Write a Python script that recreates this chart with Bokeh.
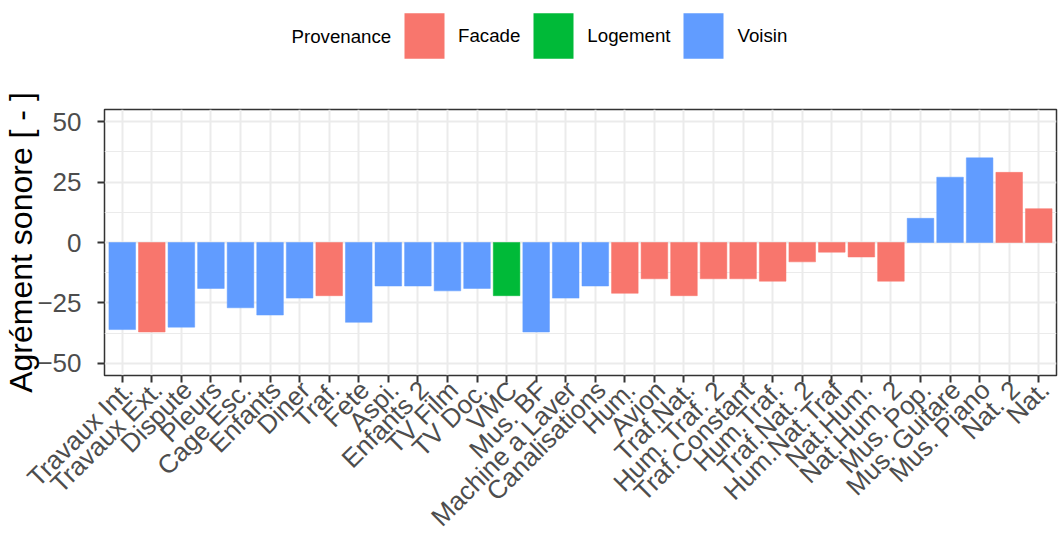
import math
from bokeh.plotting import figure
from bokeh.layouts import column
from bokeh.models import (ColumnDataSource, Range1d, FixedTicker,
                          Legend, LegendItem, Label, LinearAxis)
from bokeh.embed import file_html
from bokeh.resources import INLINE

categories = ["Travaux Int.", "Travaux Ext.", "Dispute", "Pleurs", "Cage Esc.",
              "Enfants", "Diner", "Traf.", "Fete", "Aspi.", "Enfants 2",
              "TV Film", "TV Doc.", "VMC", "Mus. BF", "Machine a Laver",
              "Canalisations", "Hum.", "Avion", "Traf.Nat.", "Hum. Traf. 2",
              "Traf.Constant", "Hum.Traf.", "Traf.Nat. 2", "Hum.Nat.Traf",
              "Nat.Hum.", "Nat.Hum. 2", "Mus. Pop.", "Mus. Guitare",
              "Mus. Piano", "Nat. 2", "Nat."]
values = [-36, -37, -35, -19, -27, -30, -23, -22, -33, -18, -18, -20, -19,
          -22, -37, -23, -18, -21, -15, -22, -15, -15, -16, -8, -4, -6, -16,
          10, 27, 35, 29, 14]
provenance = ["Voisin", "Facade", "Voisin", "Voisin", "Voisin", "Voisin",
              "Voisin", "Facade", "Voisin", "Voisin", "Voisin", "Voisin",
              "Voisin", "Logement", "Voisin", "Voisin", "Voisin", "Facade",
              "Facade", "Facade", "Facade", "Facade", "Facade", "Facade",
              "Facade", "Facade", "Facade", "Voisin", "Voisin", "Voisin",
              "Facade", "Facade"]
groups = ["Facade", "Logement", "Voisin"]
group_colors = ["#F8766D", "#00BA38", "#619CFF"]
y_ticks = [-50, -25, 0, 25, 50]
y_minor = [-37.5, -12.5, 12.5, 37.5]

FONT = "Liberation Sans"
W = 1058
LEG_H = 80
MAIN_H = 545 - LEG_H
LABEL_SHIFT = 0.2  # category units, moves rotated tick labels like ggplot's
FRAME_LEFT = 103
AX_FS = "26px"

n = len(categories)
pos = list(range(n))  # discrete positions of the categories

# ---------------- main plot ----------------
p = figure(
    x_range=Range1d(-0.6, n - 0.4),
    y_range=Range1d(-55, 55),
    width=W, height=MAIN_H,
    output_backend="svg", toolbar_location=None,
    min_border_left=FRAME_LEFT, min_border_right=2,
    min_border_top=109 - LEG_H, min_border_bottom=168,
)
p.background_fill_color = "white"
p.border_fill_color = "white"
p.outline_line_color = "#333333"
p.outline_line_width = 1.5

for g, c in zip(groups, group_colors):
    idx = [i for i, pv in enumerate(provenance) if pv == g]
    src = ColumnDataSource(dict(x=[pos[i] for i in idx],
                                top=[values[i] for i in idx],
                                name=[categories[i] for i in idx]))
    p.vbar(x="x", top="top", bottom=0, width=0.9, source=src,
           fill_color=c, line_color=c, line_width=0.5)

p.xaxis.ticker = FixedTicker(ticks=pos)
p.xgrid.ticker = FixedTicker(ticks=pos)
p.xgrid.grid_line_color = "#EBEBEB"
p.xgrid.grid_line_width = 2
p.ygrid.grid_line_color = "#EBEBEB"
p.ygrid.grid_line_width = 2
p.ygrid.minor_grid_line_color = "#EBEBEB"
p.ygrid.minor_grid_line_width = 1
p.yaxis.ticker = FixedTicker(ticks=y_ticks, minor_ticks=y_minor)

for ax in (p.xaxis[0], p.yaxis[0]):
    ax.axis_line_color = None
    ax.major_tick_line_color = "#333333"
    ax.major_tick_line_width = 2
    ax.major_tick_out = 7
    ax.major_tick_in = 0
    ax.minor_tick_line_color = None
    ax.major_label_text_font = FONT
    ax.major_label_text_font_size = AX_FS
    ax.major_label_text_color = "#4D4D4D"
    ax.major_label_standoff = 16

# first x axis keeps the ticks; labels are drawn by a shifted axis below
p.xaxis[0].major_label_overrides = {i: "" for i in pos}
p.xaxis[0].major_label_standoff = 0

p.extra_x_ranges = {"lab": Range1d(-0.6 - LABEL_SHIFT, n - 0.4 - LABEL_SHIFT)}
lab_axis = LinearAxis(
    x_range_name="lab",
    ticker=FixedTicker(ticks=pos),
    major_label_overrides={i: c for i, c in zip(pos, categories)},
    major_label_orientation=math.pi / 4,
    axis_line_color=None, major_tick_line_color=None, minor_tick_line_color=None,
    major_tick_out=0, major_tick_in=0, major_label_standoff=3,
    major_label_text_font=FONT, major_label_text_font_size=AX_FS,
    major_label_text_color="#4D4D4D",
)
p.add_layout(lab_axis, "below")

p.yaxis.axis_label = "Agrément sonore [ - ]"
p.yaxis.axis_label_text_font = FONT
p.yaxis.axis_label_text_font_size = "32px"
p.yaxis.axis_label_text_font_style = "normal"
p.yaxis.axis_label_text_color = "black"
p.yaxis.axis_label_standoff = -5

# ---------------- legend strip ----------------
lg = figure(width=W, height=LEG_H, x_range=Range1d(0, 1), y_range=Range1d(0, 1),
            output_backend="svg", toolbar_location=None,
            x_axis_type=None, y_axis_type=None,
            min_border=0, min_border_left=0, min_border_right=0,
            min_border_top=0, min_border_bottom=0)
lg.outline_line_color = None
lg.xgrid.visible = False
lg.ygrid.visible = False

items = []
for g, c in zip(groups, group_colors):
    # zero-height stand-in bar: invisible, only feeds the legend key
    r = lg.vbar(x=[0.5], top=[0], bottom=[0], width=0.9,
                fill_color=c, line_color=None)
    items.append(LegendItem(label=g, renderers=[r]))

legend = Legend(items=items, orientation="horizontal",
                location=(398 - FRAME_LEFT, 16),
                glyph_width=50, glyph_height=57, label_standoff=9, spacing=8,
                padding=0, margin=0, border_line_color=None,
                background_fill_alpha=0,
                label_text_font=FONT, label_text_font_size="18.7px",
                label_text_color="black")
lg.add_layout(legend, "center")

lg.add_layout(Label(x=290 - FRAME_LEFT, y=44, x_units="screen", y_units="screen",
                    text="Provenance", text_font=FONT, text_font_size="18.7px",
                    text_color="black", text_baseline="middle",
                    text_align="left"))

layout = column(lg, p, spacing=0)
open("out.html", "w").write(file_html(layout, INLINE))
